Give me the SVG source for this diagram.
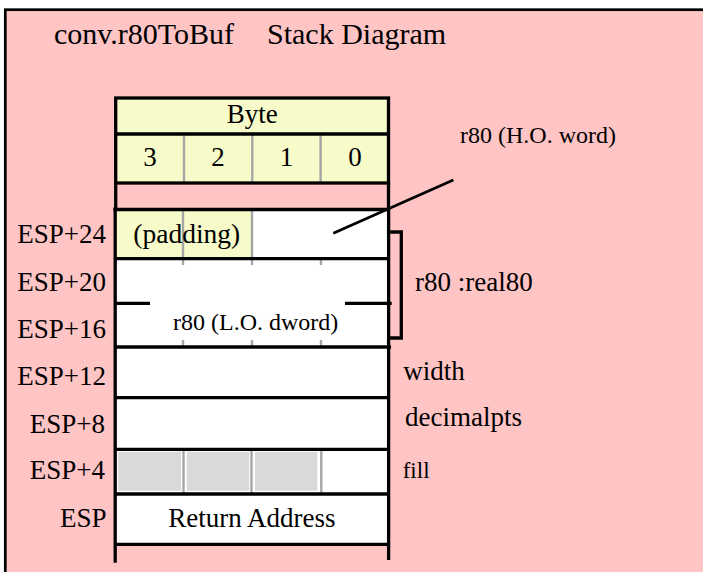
<svg xmlns="http://www.w3.org/2000/svg" width="703" height="572" viewBox="0 0 703 572">
<style>
.t{font-family:"Liberation Serif","Times New Roman",serif;fill:#000}
.k{stroke:#000;stroke-width:3.3;fill:none}
.g{stroke:#a6a6a6;stroke-width:2.4;fill:none}
.gc{fill:#d9d9d9}
</style>
<rect width="703" height="572" fill="#fff"/>
<rect id="frame" x="5.3" y="9.7" width="720" height="600" fill="#ffc4c4" stroke="#000" stroke-width="2.7"/>
<g id="title">
<text class="t" font-size="30" y="44.3"><tspan x="54">conv.r80ToBuf</tspan><tspan x="267">Stack Diagram</tspan></text>
</g>
<g id="header">
<rect x="115.7" y="98" width="272.8" height="85" fill="#f7fbc9"/>
<line class="g" x1="184" y1="134" x2="184" y2="183"/>
<line class="g" x1="252.3" y1="134" x2="252.3" y2="183"/>
<line class="g" x1="320.6" y1="134" x2="320.6" y2="183"/>
<rect class="k" x="115.7" y="98" width="272.8" height="85"/>
<line class="k" x1="115.7" y1="134" x2="388.5" y2="134"/>
<line class="k" x1="115.7" y1="183" x2="115.7" y2="209"/>
<line class="k" x1="388.5" y1="183" x2="388.5" y2="209"/>
<text class="t" font-size="27" x="252.3" y="122.7" text-anchor="middle">Byte</text>
<text class="t" font-size="27" y="166" text-anchor="middle"><tspan x="150">3</tspan><tspan x="218">2</tspan><tspan x="286.5">1</tspan><tspan x="355">0</tspan></text>
</g>
<g id="stack">
<rect x="115" y="209" width="273.5" height="335.3" fill="#fff"/>
<rect x="116" y="209" width="136" height="49.7" fill="#f7fbc9"/>
<line class="g" x1="183" y1="209" x2="183" y2="258.7"/>
<line class="g" x1="252" y1="209" x2="252" y2="258.7"/>
<path class="g" d="M183 259V265M252 259V265M321 259V265M183 340V346M252 340V346M321 340V346"/>
<rect class="gc" x="118.3" y="451.7" width="62.7" height="39"/>
<rect class="gc" x="186.7" y="451.7" width="62.6" height="39"/>
<rect class="gc" x="255" y="451.7" width="62.3" height="39"/>
<line class="g" x1="183.5" y1="449.3" x2="183.5" y2="494"/>
<line class="g" x1="251.5" y1="449.3" x2="251.5" y2="494"/>
<line class="g" x1="321.3" y1="449.3" x2="321.3" y2="494"/>
<line class="k" x1="115.2" y1="207.5" x2="115.2" y2="562.7"/>
<line class="k" x1="388.6" y1="207.5" x2="388.6" y2="560"/>
<line class="k" x1="113.5" y1="209.5" x2="390" y2="209.5"/>
<line class="k" x1="115" y1="258.7" x2="390" y2="258.7"/>
<line class="k" x1="115" y1="303.3" x2="150" y2="303.3"/>
<line class="k" x1="345" y1="303.3" x2="391.7" y2="303.3"/>
<line class="k" x1="115" y1="347" x2="391" y2="347"/>
<line class="k" x1="115" y1="397.6" x2="390" y2="397.6"/>
<line class="k" x1="115" y1="449.3" x2="390" y2="449.3"/>
<line class="k" x1="115" y1="494" x2="390" y2="494"/>
<line class="k" x1="115" y1="544.3" x2="390" y2="544.3"/>
<text class="t" font-size="27.5" x="133.3" y="243.3">(padding)</text>
<text class="t" font-size="24" x="173" y="329.5">r80 (L.O. dword)</text>
<text class="t" font-size="27" x="168.3" y="526.7">Return Address</text>
</g>
<g id="offsets" class="t" font-size="27" text-anchor="end">
<text x="106" y="243.3">ESP+24</text>
<text x="106" y="291">ESP+20</text>
<text x="106" y="337.7">ESP+16</text>
<text x="106" y="385">ESP+12</text>
<text x="105" y="432.7">ESP+8</text>
<text x="105" y="479.3">ESP+4</text>
<text x="106.5" y="526.7">ESP</text>
</g>
<g id="labels" class="t">
<text font-size="24" x="460" y="143.3">r80 (H.O. word)</text>
<text font-size="27" x="415" y="290.7">r80 :real80</text>
<text font-size="27" x="403.3" y="380">width</text>
<text font-size="27" x="405" y="426">decimalpts</text>
<text font-size="23" x="402.7" y="478">fill</text>
</g>
<g id="connectors">
<line x1="333.3" y1="233.3" x2="453.3" y2="180" stroke="#000" stroke-width="2.7"/>
<path class="k" d="M390 232H401.3V338H390"/>
</g>
</svg>
